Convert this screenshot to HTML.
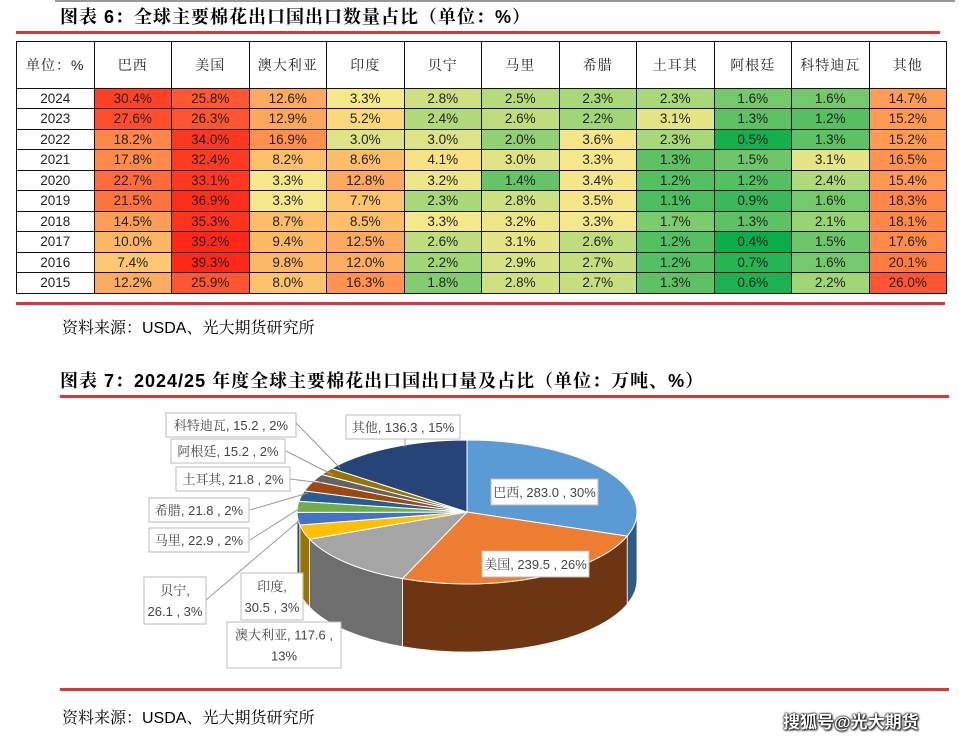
<!DOCTYPE html>
<html><head><meta charset="utf-8"><style>
body{margin:0;width:959px;height:742px;background:#fff;position:relative;overflow:hidden;font-family:"Liberation Sans","Noto Sans CJK SC",sans-serif;color:#000}
.abs{position:absolute}
.title{font-weight:bold;font-size:18px;letter-spacing:1px;font-family:"Liberation Sans","Noto Serif CJK SC",serif}
.src{font-size:16px;font-family:"Liberation Sans","Noto Serif CJK SC",serif}
.red{background:#d9363e;height:3px}
table{border-collapse:collapse;position:absolute;left:16px;top:41px;table-layout:fixed}
td{border:1.5px solid #111;text-align:center;font-size:13.5px;padding:0;height:19.5px;width:76.5px;color:#222}
tr.h td{height:45.5px;font-family:"Liberation Sans","Noto Serif CJK SC",serif;font-size:14px;letter-spacing:1px}
</style></head><body>
<div class="abs" style="left:55px;top:0;width:900px;height:2px;background:#999"></div>
<div class="abs title" style="left:60px;top:3px">图表 6：全球主要棉花出口国出口数量占比（单位：%）</div>
<div class="abs red" style="left:16px;top:31px;width:924px"></div>
<table id="t"></table>
<div class="abs red" style="left:16px;top:302px;width:929px"></div>
<div class="abs src" style="left:62px;top:315px">资料来源：USDA、光大期货研究所</div>
<div class="abs title" style="left:60px;top:367px">图表 7：2024/25 年度全球主要棉花出口国出口量及占比（单位：万吨、%）</div>
<div class="abs red" style="left:60px;top:395px;width:889px"></div>
<svg class="abs" style="left:0;top:0" width="959" height="742" id="pie"></svg>
<div class="abs red" style="left:60px;top:688px;width:889px"></div>
<div class="abs src" style="left:62px;top:705px">资料来源：USDA、光大期货研究所</div>
<div class="abs" style="left:783px;top:708px;font-size:17px;font-weight:bold;color:#fff;text-shadow:0 0 2px #000,0 0 2px #000,1px 1px 2px #000">搜狐号@光大期货</div>
<script>
var hdr=["单位：%","巴西","美国","澳大利亚","印度","贝宁","马里","希腊","土耳其","阿根廷","科特迪瓦","其他"];
var d=[
["2024",30.4,25.8,12.6,3.3,2.8,2.5,2.3,2.3,1.6,1.6,14.7],
["2023",27.6,26.3,12.9,5.2,2.4,2.6,2.2,3.1,1.3,1.2,15.2],
["2022",18.2,34.0,16.9,3.0,3.0,2.0,3.6,2.3,0.5,1.3,15.2],
["2021",17.8,32.4,8.2,8.6,4.1,3.0,3.3,1.3,1.5,3.1,16.5],
["2020",22.7,33.1,3.3,12.8,3.2,1.4,3.4,1.2,1.2,2.4,15.4],
["2019",21.5,36.9,3.3,7.7,2.3,2.8,3.5,1.1,0.9,1.6,18.3],
["2018",14.5,35.3,8.7,8.5,3.3,3.2,3.3,1.7,1.3,2.1,18.1],
["2017",10.0,39.2,9.4,12.5,2.6,3.1,2.6,1.2,0.4,1.5,17.6],
["2016",7.4,39.3,9.8,12.0,2.2,2.9,2.7,1.2,0.7,1.6,20.1],
["2015",12.2,25.9,8.0,16.3,1.8,2.8,2.7,1.3,0.6,2.2,26.0]];
var st=[[0.4,[10,174,74]],[1.3,[94,194,101]],[2.3,[168,216,120]],[3.3,[245,232,138]],[5.5,[252,214,120]],[8.5,[252,190,105]],[12.6,[251,170,95]],[15.5,[255,152,82]],[20,[255,125,65]],[26,[255,85,50]],[31,[255,62,36]],[39.3,[255,40,24]]];
function col(v){for(var i=0;i<st.length-1;i++){if(v<=st[i+1][0]){var t=(v-st[i][0])/(st[i+1][0]-st[i][0]);t=Math.max(0,t);var c=st[i][1].map(function(a,k){return Math.round(a+(st[i+1][1][k]-a)*t)});return "rgb("+c+")";}}return "rgb(255,40,24)";}
var h='<tr class="h">'+hdr.map(function(x){return"<td>"+x+"</td>"}).join("")+"</tr>";
d.forEach(function(r){h+="<tr>";r.forEach(function(v,i){h+=i?'<td style="background:'+col(v)+'">'+v.toFixed(1)+"%</td>":"<td>"+v+"</td>"});h+="</tr>"});
document.getElementById("t").innerHTML=h;
// pie
var cx=467,cy=512,rx=170,ry=72,dp=68;
var sl=[[283,"#5b9bd5","#2e5a85"],[239.5,"#ed7d31","#6e3512"],[117.6,"#a5a5a5","#6e6e6e"],[30.5,"#ffc000","#9a7400"],[26.1,"#4472c4","#2a4780"],[22.9,"#70ad47","#44702a"],[21.8,"#255e91","#163a5a"],[21.8,"#9e480e","#5e2a08"],[15.2,"#636363","#3c3c3c"],[15.2,"#997300","#5c4500"],[136.3,"#264478","#15284a"]];
var tot=0;sl.forEach(function(s){tot+=s[0]});
function P(a,dy){var r=a*Math.PI/180;return[(cx+rx*Math.sin(r)).toFixed(1),(cy-ry*Math.cos(r)+(dy||0)).toFixed(1)]}
var sides="",tops="",a=0;
sl.forEach(function(s){var b=a+s[0]/tot*360;
var p0=P(a),p1=P(b),lg=(b-a)>180?1:0;
tops+='<path d="M'+cx+','+cy+'L'+p0+'A'+rx+','+ry+' 0 '+lg+' 1 '+p1+'Z" fill="'+s[1]+'" stroke="#fff" stroke-width="1"/>';
var s0=Math.max(a,90),s1=Math.min(b,270);
if(s1>s0){var q0=P(s0),q1=P(s1),q2=P(s1,dp),q3=P(s0,dp);
sides+='<path d="M'+q0+'A'+rx+','+ry+' 0 0 1 '+q1+'L'+q2+'A'+rx+','+ry+' 0 0 0 '+q3+'Z" fill="'+s[2]+'" stroke="#fff" stroke-width="0.8"/>';}
a=b;});
var L=[[296,423,340,468],[286,451,333,475],[290,479,322,483],[250,510,308,493],[250,540,305,505],[206,600,300,520],[405,439,405,447]];
var lines=L.map(function(l){return'<line x1="'+l[0]+'" y1="'+l[1]+'" x2="'+l[2]+'" y2="'+l[3]+'" stroke="#999" stroke-width="1"/>'}).join("");
var B=[[166,413,130,24,["科特迪瓦, 15.2 , 2%"]],[171,439,114,24,["阿根廷, 15.2 , 2%"]],[176,467,114,24,["土耳其, 21.8 , 2%"]],[149,498,100,24,["希腊, 21.8 , 2%"]],[149,528,100,24,["马里, 22.9 , 2%"]],[144,577,62,47,["贝宁,","26.1 , 3%"]],[241,573,62,47,["印度,","30.5 , 3%"]],[227,622,114,46,["澳大利亚, 117.6 ,","13%"]],[346,415,114,24,["其他, 136.3 , 15%"]],[491,479,107,26,["巴西, 283.0 , 30%"]],[482,551,107,26,["美国, 239.5 , 26%"]]];
var bx=B.map(function(b){var t='<rect x="'+b[0]+'" y="'+b[1]+'" width="'+b[2]+'" height="'+b[3]+'" fill="#fff" stroke="#bbb"/>';
var n=b[4].length;b[4].forEach(function(s,i){var y=b[1]+b[3]/2+5+(i-(n-1)/2)*21;t+='<text x="'+(b[0]+b[2]/2)+'" y="'+y+'" text-anchor="middle" font-size="13" fill="#444" font-family="Liberation Sans,Noto Serif CJK SC,serif">'+s+'</text>'});return t}).join("");
document.getElementById("pie").innerHTML=sides+tops+lines+bx;
</script>
</body></html>
